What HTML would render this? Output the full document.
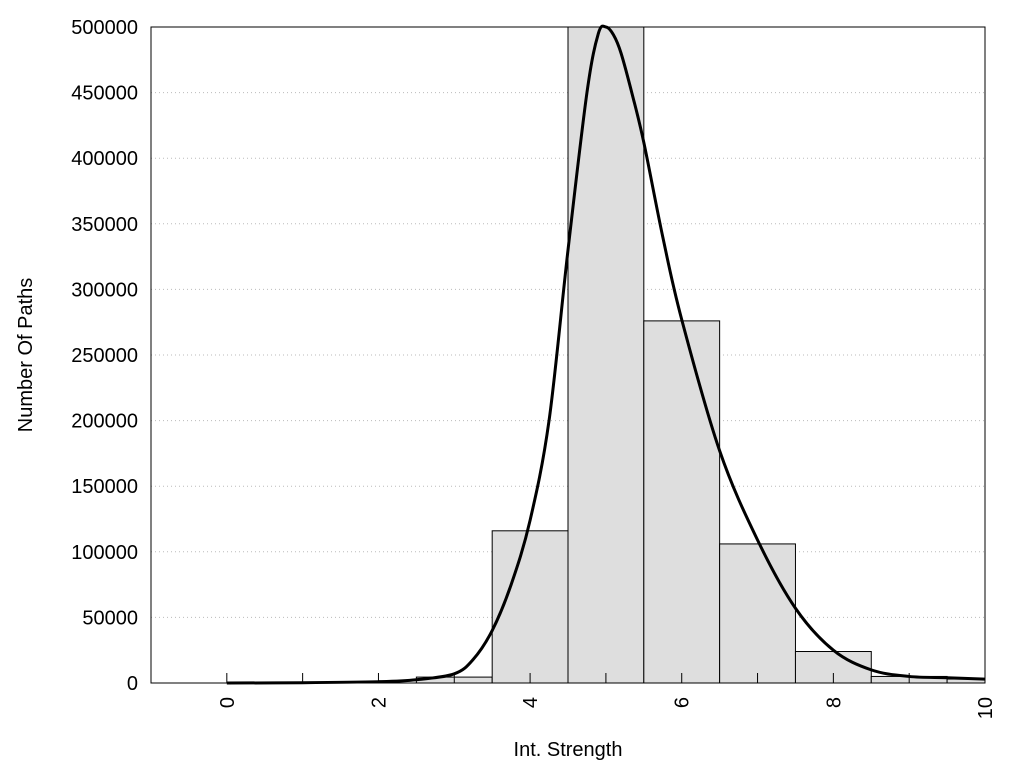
<!DOCTYPE html>
<html><head><meta charset="utf-8"><style>
body{margin:0;background:#fff;width:1024px;height:768px;overflow:hidden}
text{font-family:"Liberation Sans",Arial,sans-serif;fill:#000}
</style></head><body>
<svg id="chart" width="1024" height="768" xmlns="http://www.w3.org/2000/svg"></svg>
<script>
const binCenters=[3,4,5,6,7,8,9,10];
const binCounts=[4500,116000,500000,276000,106000,24000,5000,3000];
const curveX=[0,1,2,2.5,3,3.25,3.5,3.75,4,4.25,4.5,4.75,4.9,5,5.1,5.2,5.35,5.5,5.75,6,6.5,7,7.5,8,8.5,9,9.5,10];
const curveY=[0,200,1000,2500,7000,18000,40000,75000,124000,200000,330000,450000,495000,500000,494000,480000,448000,412000,340000,277000,177000,109000,57000,25000,10000,5000,4000,3000];
const yTicks=[0,50000,100000,150000,200000,250000,300000,350000,400000,450000,500000];
const xTicks=[0,2,4,6,8,10];
const xMinor=[0,1,2,3,4,5,6,7,8,9,10];
const L=151,R=985,T=27,B=683,X0=-1,X1=10;
const sx=v=>L+(v-X0)/(X1-X0)*(R-L);
const sy=v=>B-v/500000*(B-T);
const svg=document.getElementById('chart');
const NS='http://www.w3.org/2000/svg';
function mk(tag,at,parent){const e=document.createElementNS(NS,tag);for(const k in at)e.setAttribute(k,at[k]);(parent||svg).appendChild(e);return e;}
yTicks.forEach(v=>{if(v===0)return;
const g=mk('line',{x1:L,x2:R,y1:sy(v),y2:sy(v),stroke:'#bbb','stroke-dasharray':'1,3','stroke-width':1});

});
binCenters.forEach((c,i)=>{const x0=sx(c-0.5),x1=Math.min(sx(c+0.5),R);
const r=mk('rect',{x:x0,y:sy(binCounts[i]),width:x1-x0,height:B-sy(binCounts[i]),fill:'#dedede',stroke:'#000','stroke-width':1});

});
xMinor.forEach(v=>{const t=mk('line',{x1:sx(v),x2:sx(v),y1:B,y2:B-10,stroke:'#000','stroke-width':1});

});
const P=curveX.map((x,i)=>[sx(x),sy(curveY[i])]);
let d='M'+P[0][0]+','+P[0][1];
for(let i=0;i<P.length-1;i++){const p0=P[Math.max(0,i-1)],p1=P[i],p2=P[i+1],p3=P[Math.min(P.length-1,i+2)];
d+=' C'+(p1[0]+(p2[0]-p0[0])/6)+','+(p1[1]+(p2[1]-p0[1])/6)+' '+(p2[0]-(p3[0]-p1[0])/6)+','+(p2[1]-(p3[1]-p1[1])/6)+' '+p2[0]+','+p2[1];}
const c=mk('path',{d:d,fill:'none',stroke:'#000','stroke-width':3,'stroke-linejoin':'round'});


const f=mk('rect',{x:L,y:T,width:R-L,height:B-T,fill:'none',stroke:'#000','stroke-width':1});


yTicks.forEach(v=>{const t=mk('text',{x:L-13,y:sy(v)+7,'text-anchor':'end','font-size':20});t.textContent=v;

});
xTicks.forEach(v=>{const x=sx(v)+7,y=B+14;const t=mk('text',{x:x,y:y,'text-anchor':'end','font-size':20,transform:'rotate(-90 '+x+' '+y+')'});t.textContent=v;

});
const xt=mk('text',{x:568,y:756,'text-anchor':'middle','font-size':20});xt.textContent='Int. Strength';


const yt=mk('text',{x:32,y:355,'text-anchor':'middle','font-size':20,transform:'rotate(-90 32 355)'});yt.textContent='Number Of Paths';


</script>
</body></html>
